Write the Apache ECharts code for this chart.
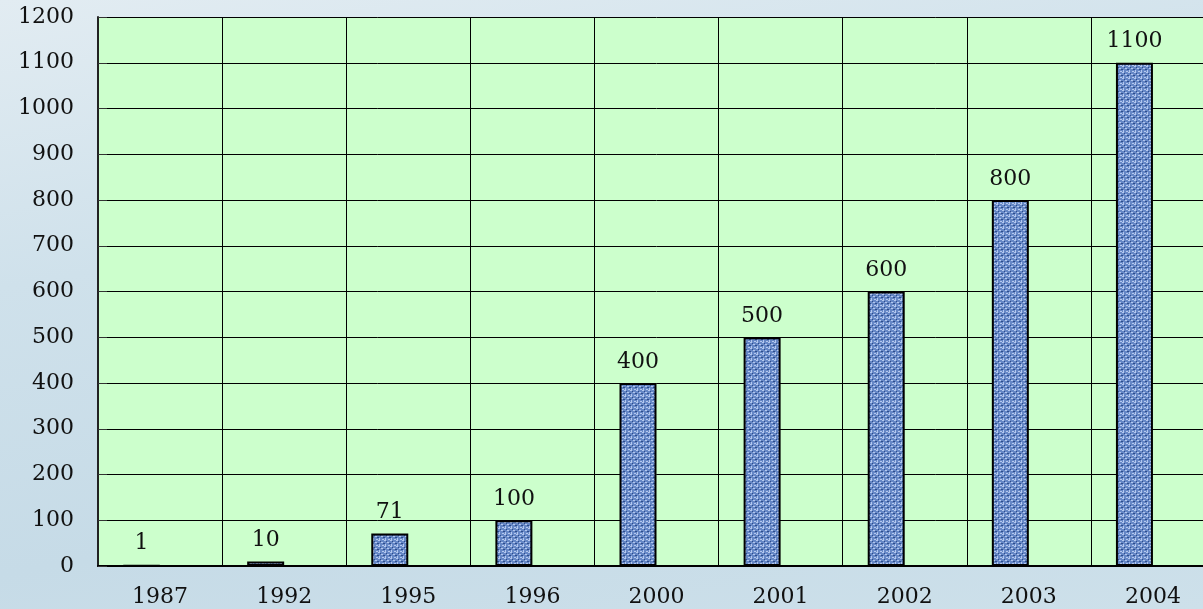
<!DOCTYPE html>
<html>
<head>
<meta charset="utf-8">
<script src="https://cdn.jsdelivr.net/npm/echarts@6/dist/echarts.min.js"></script>
<style>
  html, body {
    margin: 0;
    padding: 0;
    width: 1203px;
    height: 609px;
    overflow: hidden;
    background: linear-gradient(170deg, #e2ecf2 0%, #cfe1eb 35%, #c6dbe7 70%, #cde0ea 100%);
  }
  /* wider than the window: the last column runs off the right edge like the original */
  #chart {
    width: 1215px;
    height: 609px;
  }
</style>
</head>
<body>
<div id="chart"></div>
<script>
  // years and counts
  const years = ['1987', '1992', '1995', '1996', '2000', '2001', '2002', '2003', '2004']
  const counts = [1, 10, 71, 100, 400, 500, 600, 800, 1100]
  // empty second series, only keeps the bars shifted left as in the original
  const spacer = [null, null, null, null, null, null, null, null, null]

  // small blue texture tile for the bars
  function makeTile () {
    let c = document.createElement('canvas')
    c.width = 6
    c.height = 6
    let g = c.getContext('2d')
    g.fillStyle = '#6587c6'
    g.fillRect(0, 0, 6, 6)
    g.fillStyle = '#b4c8ee'
    g.fillRect(0, 0, 2, 1)
    g.fillRect(3, 2, 2, 1)
    g.fillRect(1, 4, 1, 2)
    g.fillRect(4, 5, 2, 1)
    g.fillStyle = '#2d4c8a'
    g.fillRect(2, 1, 1, 1)
    g.fillRect(5, 3, 1, 1)
    g.fillRect(0, 3, 1, 1)
    return c
  }

  const font = '"DejaVu Serif", "Liberation Serif", serif'
  let chart = echarts.init(document.getElementById('chart'))
  chart.setOption({
    animation: false,
    backgroundColor: 'transparent',
    grid: {
      left: 98,
      top: 17,
      right: 0,
      bottom: 43,
      show: true,
      backgroundColor: '#ccffcc',
      borderWidth: 0
    },
    xAxis: {
      type: 'category',
      data: years,
      axisLine: {lineStyle: {color: '#000', width: 2}},
      axisTick: {show: false},
      axisLabel: {color: '#111', fontFamily: font, fontSize: 22, margin: 20},
      splitLine: {show: true, lineStyle: {color: '#000', width: 1}}
    },
    yAxis: {
      type: 'value',
      min: 0,
      max: 1200,
      interval: 100,
      axisLine: {show: true, lineStyle: {color: '#222', width: 2}},
      axisTick: {show: true, inside: true, length: 9, lineStyle: {color: '#333'}},
      axisLabel: {color: '#111', fontFamily: font, fontSize: 22, margin: 24, formatter: v => String(v)},
      splitLine: {lineStyle: {color: '#000', width: 1}}
    },
    series: [{
      type: 'bar',
      data: counts,
      barWidth: 37,
      barGap: '0%',
      itemStyle: {
        color: {image: makeTile(), repeat: 'repeat'},
        borderColor: '#000',
        borderWidth: 2
      },
      label: {
        show: true,
        position: 'top',
        distance: 10,
        color: '#111',
        fontFamily: font,
        fontSize: 22
      }
    }, {
      type: 'bar',
      data: spacer,
      barWidth: 37
    }]
  })
</script>
</body>
</html>
